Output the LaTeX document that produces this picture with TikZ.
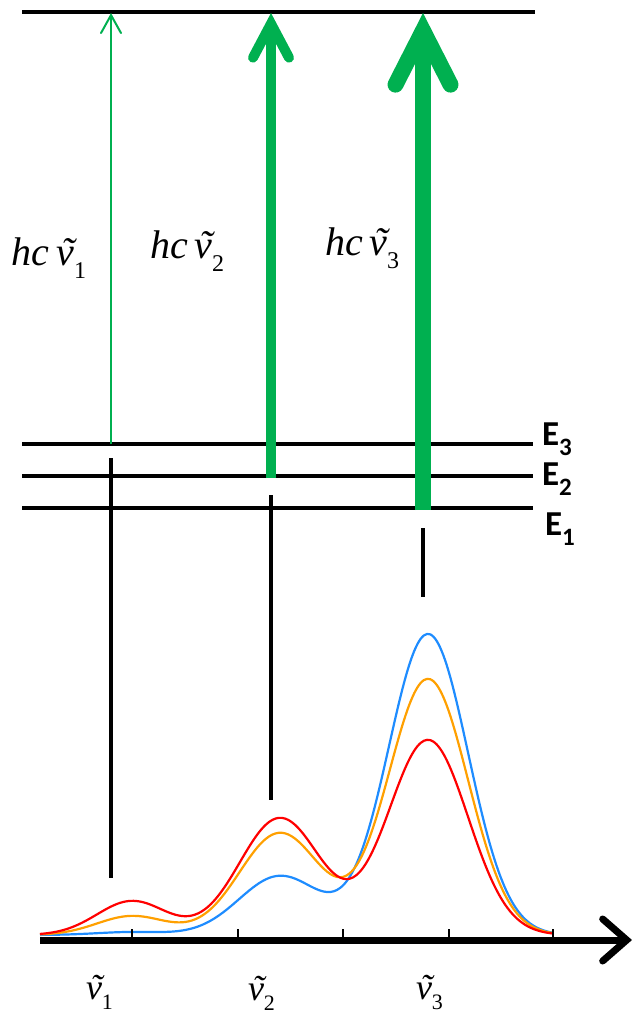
\documentclass[tikz,border=0pt]{standalone}
\usepackage{fontspec}
\setmainfont{Liberation Serif}
\newfontfamily\calibf{Carlito}
\usetikzlibrary{arrows.meta}
\definecolor{pgreen}{HTML}{00B050}
\definecolor{cred}{HTML}{FF0000}
\definecolor{corange}{HTML}{FFA000}
\definecolor{cblue}{HTML}{1E8CFF}
\newcommand\tnu{\rlap{\hspace{0.12em}\char"02DC}ν}
\newcommand\hclab[1]{\fontsize{40}{40}\selectfont\itshape hc\,\tnu\raisebox{-13pt}{\fontsize{24}{24}\selectfont\upshape #1}}
\newcommand\nulab[1]{\fontsize{36}{36}\selectfont\itshape \tnu\raisebox{-10pt}{\fontsize{22}{22}\selectfont\upshape #1}}
\newcommand\elab[1]{\calibf\bfseries\fontsize{35}{35}\selectfont E\raisebox{-10pt}{\fontsize{25}{25}\selectfont #1}}
\begin{document}
\begin{tikzpicture}[x=1pt,y=-1pt,
  level/.style={line width=4pt},
  vline/.style={line width=4pt},
  spec/.style={line width=2.2pt, smooth},
  lab/.style={anchor=base west, inner sep=0pt, outer sep=0pt},
  tick/.style={line width=1.2pt}]
\useasboundingbox (0,0) rectangle (633,1015);
% levels
\coordinate (T0) at (22,12); \coordinate (T1) at (535,12);
\coordinate (L3a) at (22,444); \coordinate (L3b) at (533,444);
\coordinate (L2a) at (22,476); \coordinate (L2b) at (533,476);
\coordinate (L1a) at (22,508); \coordinate (L1b) at (533,508);
\draw[level] (T0) -- (T1);
\draw[level] (L3a) -- (L3b);
\draw[level] (L2a) -- (L2b);
\draw[level] (L1a) -- (L1b);
\node[lab] (E3) at (542,445) {\elab{3}};
\node[lab] (E2) at (542,485) {\elab{2}};
\node[lab] (E1) at (545,535) {\elab{1}};
% green arrows
\coordinate (A1s) at (111,444); \coordinate (A1e) at (111,13);
\coordinate (A2s) at (271,478); \coordinate (A2e) at (271,13);
\coordinate (A3s) at (423,510); \coordinate (A3e) at (423,13);
\draw[pgreen, line width=2pt, -{Straight Barb[length=18pt,width=20pt,line cap=round]}] (A1s) -- (A1e);
\draw[pgreen, line width=10pt, -{Straight Barb[length=34pt,width=36pt,line cap=round]}] (A2s) -- (A2e);
\draw[pgreen, line width=16pt, -{Straight Barb[length=54pt,width=55pt,line cap=round]}] (A3s) -- (A3e);
% labels
\node[lab] (h1) at (12,265) {\hclab{1}};
\node[lab] (h2) at (150,258) {\hclab{2}};
\node[lab] (h3) at (325,255) {\hclab{3}};
% vertical black lines
\coordinate (V1a) at (111,458); \coordinate (V1b) at (111,878);
\coordinate (V2a) at (271,495); \coordinate (V2b) at (271,800);
\coordinate (V3a) at (423,528); \coordinate (V3b) at (423,597);
\draw[vline] (V1a) -- (V1b);
\draw[vline] (V2a) -- (V2b);
\draw[vline] (V3a) -- (V3b);
% spectra
\draw[spec, cblue] plot[domain=40:553, samples=160] (\x, {935 - (3*exp(-0.5*((\x-132)/35)^2) + 59*exp(-0.5*((\x-280)/41)^2) + 301*exp(-0.5*((\x-428)/40)^2))});
\draw[spec, corange] plot[domain=40:553, samples=160] (\x, {935 - (19*exp(-0.5*((\x-132)/35)^2) + 102*exp(-0.5*((\x-280)/41)^2) + 256*exp(-0.5*((\x-428)/40)^2))});
\draw[spec, cred] plot[domain=40:553, samples=160] (\x, {935 - (34*exp(-0.5*((\x-132)/35)^2) + 117*exp(-0.5*((\x-280)/41)^2) + 195*exp(-0.5*((\x-428)/40)^2))});
% axis
\coordinate (X0) at (40,940); \coordinate (X1) at (632,940);
\foreach \t in {132,238,343,449,553} {\draw[tick] (\t,937) -- (\t,929);}
\draw[line width=7pt, -{Straight Barb[length=24pt,width=42pt,line cap=round]}] (X0) -- (X1);
% bottom labels
\node[lab] (n1) at (86,999) {\nulab{1}};
\node[lab] (n2) at (248,1000) {\nulab{2}};
\node[lab] (n3) at (416,999) {\nulab{3}};
\end{tikzpicture}
\end{document}
